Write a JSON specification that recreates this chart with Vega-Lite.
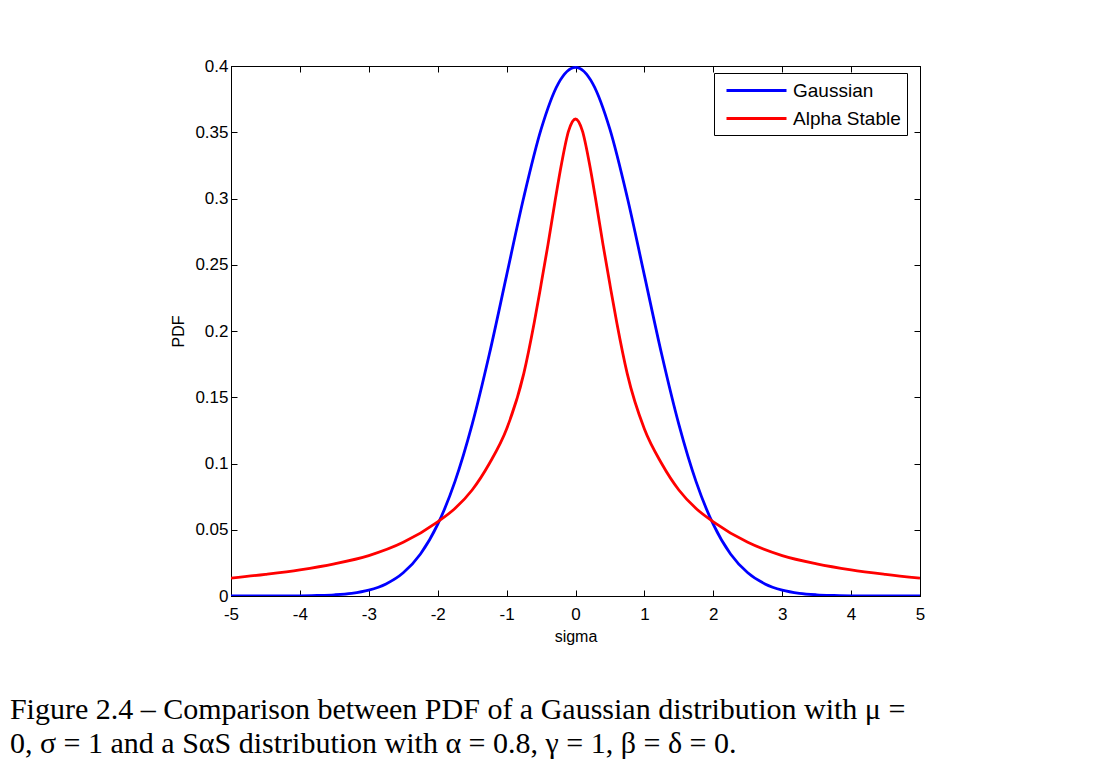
{
  "$schema": "https://vega.github.io/schema/vega-lite/v6.json",
  "width": 689,
  "height": 530,
  "autosize": "none",
  "padding": {"left": 231, "top": 66, "right": 196, "bottom": 178},
  "background": "white",
  "config": {
    "view": {"stroke": "black", "strokeWidth": 1},
    "font": "Liberation Sans",
    "axis": {
      "grid": false,
      "domainColor": "black",
      "tickColor": "black",
      "labelColor": "black",
      "titleColor": "black",
      "labelFont": "Liberation Sans",
      "labelFontSize": 17,
      "titleFont": "Liberation Sans",
      "titleFontSize": 16,
      "titleFontWeight": "normal",
      "tickSize": -6,
      "labelFlush": false
    }
  },
  "title": {
    "text": ["Figure 2.4 – Comparison between PDF of a Gaussian distribution with μ =", "0, σ = 1 and a SαS distribution with α = 0.8, γ = 1, β = δ = 0."],
    "orient": "bottom",
    "anchor": "start",
    "frame": "bounds",
    "font": "Liberation Serif",
    "fontSize": 30,
    "fontWeight": "normal",
    "color": "black",
    "lineHeight": 34,
    "offset": 51,
    "dx": -161
  },
  "data": {
    "values": [
      {"s": -5, "p": 0.0, "c": "Gaussian"},
      {"s": -4.5, "p": 0.0, "c": "Gaussian"},
      {"s": -4, "p": 0.0001, "c": "Gaussian"},
      {"s": -3.75, "p": 0.0004, "c": "Gaussian"},
      {"s": -3.5, "p": 0.0009, "c": "Gaussian"},
      {"s": -3.25, "p": 0.002, "c": "Gaussian"},
      {"s": -3, "p": 0.0044, "c": "Gaussian"},
      {"s": -2.75, "p": 0.0091, "c": "Gaussian"},
      {"s": -2.5, "p": 0.0175, "c": "Gaussian"},
      {"s": -2.25, "p": 0.0317, "c": "Gaussian"},
      {"s": -2, "p": 0.054, "c": "Gaussian"},
      {"s": -1.75, "p": 0.0863, "c": "Gaussian"},
      {"s": -1.5, "p": 0.1295, "c": "Gaussian"},
      {"s": -1.25, "p": 0.1826, "c": "Gaussian"},
      {"s": -1, "p": 0.242, "c": "Gaussian"},
      {"s": -0.75, "p": 0.3011, "c": "Gaussian"},
      {"s": -0.5, "p": 0.3521, "c": "Gaussian"},
      {"s": -0.25, "p": 0.3867, "c": "Gaussian"},
      {"s": 0, "p": 0.3989, "c": "Gaussian"},
      {"s": 0.25, "p": 0.3867, "c": "Gaussian"},
      {"s": 0.5, "p": 0.3521, "c": "Gaussian"},
      {"s": 0.75, "p": 0.3011, "c": "Gaussian"},
      {"s": 1, "p": 0.242, "c": "Gaussian"},
      {"s": 1.25, "p": 0.1826, "c": "Gaussian"},
      {"s": 1.5, "p": 0.1295, "c": "Gaussian"},
      {"s": 1.75, "p": 0.0863, "c": "Gaussian"},
      {"s": 2, "p": 0.054, "c": "Gaussian"},
      {"s": 2.25, "p": 0.0317, "c": "Gaussian"},
      {"s": 2.5, "p": 0.0175, "c": "Gaussian"},
      {"s": 2.75, "p": 0.0091, "c": "Gaussian"},
      {"s": 3, "p": 0.0044, "c": "Gaussian"},
      {"s": 3.25, "p": 0.002, "c": "Gaussian"},
      {"s": 3.5, "p": 0.0009, "c": "Gaussian"},
      {"s": 3.75, "p": 0.0004, "c": "Gaussian"},
      {"s": 4, "p": 0.0001, "c": "Gaussian"},
      {"s": 4.5, "p": 0.0, "c": "Gaussian"},
      {"s": 5, "p": 0.0, "c": "Gaussian"},
      {"s": -5, "p": 0.0135, "c": "Alpha Stable"},
      {"s": -4.5, "p": 0.0164, "c": "Alpha Stable"},
      {"s": -4, "p": 0.0198, "c": "Alpha Stable"},
      {"s": -3.5, "p": 0.0243, "c": "Alpha Stable"},
      {"s": -3, "p": 0.0305, "c": "Alpha Stable"},
      {"s": -2.5, "p": 0.0405, "c": "Alpha Stable"},
      {"s": -2, "p": 0.056, "c": "Alpha Stable"},
      {"s": -1.75, "p": 0.066, "c": "Alpha Stable"},
      {"s": -1.5, "p": 0.080, "c": "Alpha Stable"},
      {"s": -1.25, "p": 0.100, "c": "Alpha Stable"},
      {"s": -1, "p": 0.126, "c": "Alpha Stable"},
      {"s": -0.75, "p": 0.168, "c": "Alpha Stable"},
      {"s": -0.6, "p": 0.206, "c": "Alpha Stable"},
      {"s": -0.5, "p": 0.235, "c": "Alpha Stable"},
      {"s": -0.4, "p": 0.265, "c": "Alpha Stable"},
      {"s": -0.3, "p": 0.297, "c": "Alpha Stable"},
      {"s": -0.2, "p": 0.327, "c": "Alpha Stable"},
      {"s": -0.1, "p": 0.351, "c": "Alpha Stable"},
      {"s": 0, "p": 0.360, "c": "Alpha Stable"},
      {"s": 0.1, "p": 0.351, "c": "Alpha Stable"},
      {"s": 0.2, "p": 0.327, "c": "Alpha Stable"},
      {"s": 0.3, "p": 0.297, "c": "Alpha Stable"},
      {"s": 0.4, "p": 0.265, "c": "Alpha Stable"},
      {"s": 0.5, "p": 0.235, "c": "Alpha Stable"},
      {"s": 0.6, "p": 0.206, "c": "Alpha Stable"},
      {"s": 0.75, "p": 0.168, "c": "Alpha Stable"},
      {"s": 1, "p": 0.126, "c": "Alpha Stable"},
      {"s": 1.25, "p": 0.100, "c": "Alpha Stable"},
      {"s": 1.5, "p": 0.080, "c": "Alpha Stable"},
      {"s": 1.75, "p": 0.066, "c": "Alpha Stable"},
      {"s": 2, "p": 0.056, "c": "Alpha Stable"},
      {"s": 2.5, "p": 0.0405, "c": "Alpha Stable"},
      {"s": 3, "p": 0.0305, "c": "Alpha Stable"},
      {"s": 3.5, "p": 0.0243, "c": "Alpha Stable"},
      {"s": 4, "p": 0.0198, "c": "Alpha Stable"},
      {"s": 4.5, "p": 0.0164, "c": "Alpha Stable"},
      {"s": 5, "p": 0.0135, "c": "Alpha Stable"}
    ]
  },
  "layer": [
    {
      "mark": {"type": "line", "strokeWidth": 2.8, "interpolate": "monotone", "clip": true},
      "encoding": {
        "x": {
          "field": "s", "type": "quantitative",
          "scale": {"domain": [-5, 5], "nice": false},
          "axis": {"orient": "bottom", "values": [-5, -4, -3, -2, -1, 0, 1, 2, 3, 4, 5], "labelExpr": "'' + datum.value", "title": "sigma", "labelPadding": 16, "titlePadding": 6}
        },
        "y": {
          "field": "p", "type": "quantitative",
          "scale": {"domain": [0, 0.4], "nice": false},
          "axis": {"orient": "left", "values": [0, 0.05, 0.1, 0.15, 0.2, 0.25, 0.3, 0.35, 0.4], "format": "~g", "title": "PDF", "labelPadding": 9, "titlePadding": 8}
        },
        "color": {
          "field": "c", "type": "nominal",
          "scale": {"domain": ["Gaussian", "Alpha Stable"], "range": ["#0000ff", "#ff0000"]},
          "legend": {
            "title": null,
            "orient": "none",
            "legendX": 483,
            "legendY": 7,
            "strokeColor": "black",
            "fillColor": "white",
            "padding": 6,
            "cornerRadius": 0,
            "symbolType": "M-3,0L3,0",
            "symbolSize": 400,
            "symbolStrokeWidth": 2.8,
            "symbolOffset": 25,
            "labelFont": "Liberation Sans",
            "labelFontSize": 19,
            "labelColor": "black",
            "labelOffset": 25,
            "rowPadding": 6
          }
        }
      }
    },
    {
      "mark": {"type": "line", "opacity": 0},
      "encoding": {
        "x": {"field": "s", "type": "quantitative", "scale": {"domain": [-5, 5], "nice": false},
          "axis": {"orient": "top", "values": [-5, -4, -3, -2, -1, 0, 1, 2, 3, 4, 5], "labels": false, "title": null}},
        "y": {"field": "p", "type": "quantitative", "scale": {"domain": [0, 0.4], "nice": false},
          "axis": {"orient": "right", "values": [0, 0.05, 0.1, 0.15, 0.2, 0.25, 0.3, 0.35, 0.4], "labels": false, "title": null}},
        "detail": {"field": "c", "type": "nominal"}
      }
    }
  ],
  "resolve": {"axis": {"x": "independent", "y": "independent"}}
}
